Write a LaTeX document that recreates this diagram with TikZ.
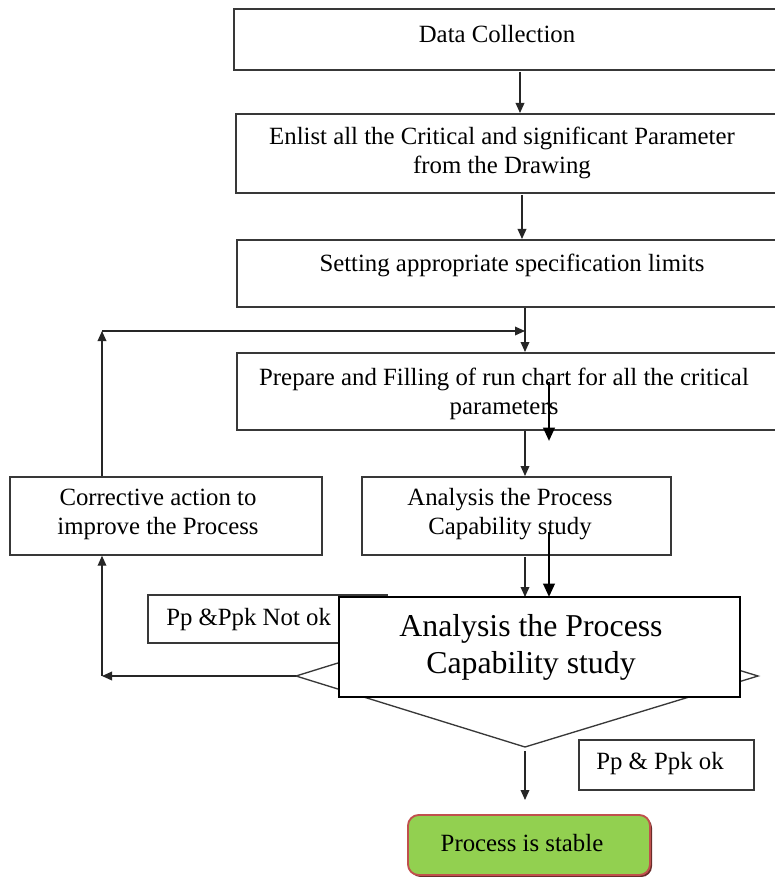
\documentclass[tikz,border=0pt]{standalone}
\usepackage{fontspec}
\setmainfont{Liberation Serif}
\usetikzlibrary{arrows.meta,fit}
\definecolor{boxline}{gray}{0.22}
\definecolor{okgreen}{RGB}{146,208,80}
\definecolor{okborder}{RGB}{192,80,77}
\begin{document}
\begin{tikzpicture}[x=0.75pt,y=-0.75pt,
  box/.style={draw=boxline,line width=1.1pt,fill=white,inner sep=0pt},
  bigbox/.style={draw=black,line width=1.6pt,fill=white,inner sep=0pt},
  txt/.style={font=\fontsize{18.6}{21.75}\selectfont,align=center,inner sep=0pt},
  bigtxt/.style={font=\fontsize{23.85}{27.75}\selectfont,align=center,inner sep=0pt},
  arr/.style={draw=black!85,line width=1pt,-{Triangle[length=7.5pt,width=6.5pt]}},
  heavyarr/.style={draw=black,line width=1.9pt,-{Triangle[length=10pt,width=8.5pt]}},
  okbox/.style={draw=okborder,line width=1.4pt,fill=okgreen,rounded corners=8pt,inner sep=0pt}
]
\useasboundingbox (0,0) rectangle (774,877);

% main boxes
\node[box, fit={(234,9) (782,70)}] (b1) {};
\node[box, fit={(236,114) (782,193)}] (b2) {};
\node[box, fit={(237,240) (782,307)}] (b3) {};
\node[box, fit={(237,353) (782,430)}] (b4) {};
\node[box, fit={(10,477) (322,555)}] (corr) {};
\node[box, fit={(362,477) (671,555)}] (anal) {};

\node[txt] (t1) at (497,34) {Data Collection};
\node[txt] (t2) at (502,153) {Enlist all the Critical and significant Parameter\\from the Drawing};
\node[txt] (t3) at (512,265) {Setting appropriate specification limits};
\node[txt] (t4) at (504,394) {Prepare and Filling of run chart for all the critical\\parameters};
\node[txt] (t5) at (158,514) {Corrective action to\\improve the Process};
\node[txt] (t6) at (510,514) {Analysis the Process\\Capability study};

% connectors between main boxes
\draw[arr] (520,72) -- (520,113);
\draw[arr] (522,195) -- (522,239);
\coordinate (loopc) at (102,331);
\coordinate (loopend) at (525,331);
\draw[arr] (525,308) -- (525,352);
\draw[arr] (corr.north -| loopc) -- (loopc);
\draw[arr] (loopc) -- (loopend);
\draw[arr] (525,431) -- (525,476);

% decision diamond
\coordinate (dl) at (296,676);
\coordinate (dt) at (525,605);
\coordinate (dr) at (758,676);
\coordinate (db) at (525,747);
\draw[draw=boxline,line width=1pt,fill=white] (dl) -- (dt) -- (dr) -- (db) -- cycle;

% not ok label
\node[box, fit={(148,595) (387,643)}] (notok) {};
\node[txt,anchor=west] (tnotok) at (166,620) {Pp \&Ppk Not ok};

% feedback connectors
\coordinate (fbc) at (102,676);
\draw[arr] (dl) -- (fbc);
\draw[arr] (fbc) -- (corr.south -| fbc);
\draw[arr] (525,557) -- (525,597);

% big overlay box
\node[bigbox, fit={(339,597) (740,697)}] (big) {};
\node[bigtxt] (tbig) at (531,647) {Analysis the Process\\Capability study};

% heavy arrows
\draw[heavyarr] (549,382) -- (549,441);
\draw[heavyarr] (549,532) -- (549,597);

% ok branch
\node[box, fit={(579,740) (754,790)}] (ok) {};
\node[txt,anchor=west] (tok) at (596,764) {Pp \& Ppk ok};
\coordinate (okend) at (525,800);
\draw[arr] ([yshift=-3pt]db) -- (okend);

\fill[okborder!55!black, rounded corners=8pt] (410,817) rectangle (652,877);
\node[okbox, fit={(408,815) (650,875)}] (stable) {};
\node[txt] (tstable) at (522,843) {Process is stable};
\end{tikzpicture}
\end{document}
